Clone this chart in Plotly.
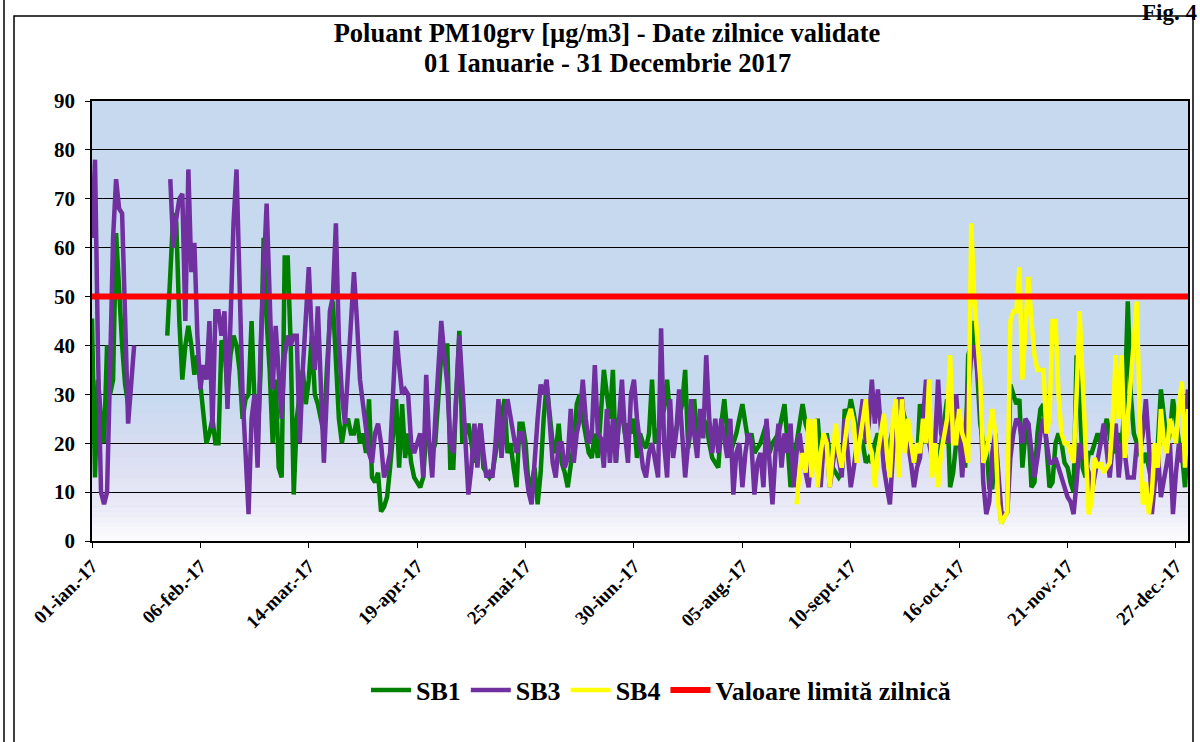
import pandas as pd
import plotly.graph_objects as go

# ---------------- DATA ----------------
dates = pd.date_range("2017-01-01", "2017-12-31", freq="D")
LIMIT = 50

SB1_jan = [45.5, 13, 33, 25, 20, 40, 30, 33, 63, 50, 40, 32, 28] + [None] * 12 + [42, 55, 67, 65, 45, 33]
SB1_feb = [40, 44, 40, 34, 38, 32, 25, 20, 22, 25, 20, 20, 41, 40, 30, 38, 42, 40, 35, 25, 29, 30, 45, 28, 20, 35, 62, 45]
SB1_mar = [35, 20, 33, 15, 13, 58, 58, 40, 9.5, 25, 30, 35, 28, 33, 42, 30, 28, 25, 22, 35, 45, 49, 35, 25, 20, 24, 25, 22, 22, 25, 20]
SB1_apr = [22, 18, 29, 13, 12, 14, 6, 7, 9, 15, 22, 29, 15, 28, 17, 22, 16, 13, 12, 11, 13, 22, 20, 18, 20, 30, 38, 40, 40, 15]
SB1_may = [15, 30, 43, 20, 22, 24, 20, 16, 20, 24, 15, 14, 13, 14, 18, 22, 25, 29, 18, 20, 15, 11, 24, 24, 20, 11, 12, 15, 7.5, 14, 25]
SB1_jun = [32, 26, 20, 18, 24, 16, 14, 11, 16, 20, 28, 30, 25, 22, 18, 17, 22, 17, 25, 35, 30, 25, 35, 16, 25, 26, 22, 24, 22, 25]
SB1_jul = [17, 22, 20, 19, 22, 33, 20, 22, 25, 27, 33, 25, 20, 23, 25, 28, 35, 19, 24, 29, 21, 22, 25, 24, 20, 17, 16, 15, 24, 29, 22]
SB1_aug = [18, 20, 22, 25, 28, 24, 20, 22, 18, 19, 20, 22, 24, 18, 20, 21, 22, 25, 28, 20, 11, 18, 20, 24, 28, 24, 22, 20, 21, 25, 17]
SB1_sep = [20, 22, 18, 15, 14, 13, 14, 27, 25, 29, 26, 22, 21, 20, 16, 17, 16, 20, 22, 20, 19, 18, 20, 23, 26, 29, 27, 25, 22, 17]
SB1_oct = [17, 16, 28, 24, 20, 22, 18, 16, 14, 20, 24, 29, 11, 14, 20, 24, 18, 15, 38, 40, 45, 35, 24, 20, 20, 11, 11, 17, 10, 3.6, 5]
SB1_nov = [6, 32, 30, 28, 29, 15, 22, 24, 11, 12, 22, 27, 28, 20, 11, 12, 20, 22, 20, 16, 15, 12, 10, 38, 30, 15, 13, 18, 18, 20]
SB1_dec = [22, 20, 22, 25, 22, 18, 20, 22, 20, 28, 49, 30, 22, 20, 18, 16, 18, 15, 12, 16, 20, 31, 25, 20, 22, 29, 25, 20, 18, 11, 20]

SB3_jan = [62, 78, 38, 10, 7.5, 10, 35, 62, 74, 68, 67, 45, 24, 32, 40] + [None] * 11 + [74, 60, 66, 70, 71]
SB3_feb = [45, 76, 55, 61, 42, 31, 36, 33, 45, 23, 47, 47, 42, 47, 27, 45, 65, 76, 50, 30, 18, 5.5, 25, 30, 15, 40, 55, 69]
SB3_mar = [50, 31, 44, 35, 25, 38, 42, 40, 42, 42, 20, 35, 45, 56, 42, 35, 48, 30, 16, 30, 47, 50, 65, 41, 30, 24, 35, 45, 55, 45, 33]
SB3_apr = [28, 22, 18, 16, 22, 24, 20, 13, 15, 18, 30, 43, 36, 30, 31, 30, 20, 18, 20, 22, 13, 34, 20, 13, 25, 36, 45, 38, 32, 20]
SB3_may = [18, 30, 42, 32, 20, 9.5, 15, 24, 15, 24, 18, 13, 14, 13, 20, 29, 17, 25, 29, 25, 22, 18, 22, 22, 15, 10, 7.5, 18, 25, 32, 30]
SB3_jun = [33, 25, 16, 13, 20, 20, 15, 17, 27, 16, 22, 25, 33, 25, 20, 22, 36, 22, 21, 15, 27, 16, 25, 16, 25, 33, 22, 16, 30, 33]
SB3_jul = [25, 20, 15, 13, 18, 20, 16, 13, 43.5, 20, 13, 29, 17, 22, 31, 20, 13, 20, 29, 22, 17, 27, 21, 38, 25, 18, 25, 18, 25, 21, 17]
SB3_aug = [25, 9.5, 18, 20, 11, 18, 22, 20, 9.5, 16, 18, 11, 25, 16, 7.5, 18, 24, 15, 22, 18, 24, 11, 18, 22, 17, 14, 11, 18, 20, 16, 11]
SB3_sep = [20, 21, 11, 16, 20, 17, 13, 25, 17, 11, 15, 20, 25, 29, 20, 24, 33, 24, 31, 22, 15, 11, 7.5, 18, 25, 29, 29, 22, 20, 16]
SB3_oct = [11, 15, 17, 25, 33, 20, 17, 20, 33, 22, 20, 25, 20, 25, 30, 22, 13, 22, 30, 38, 40, 35, 30, 12, 5.5, 8, 18, 22, 15, 6, 5]
SB3_nov = [6, 17, 22, 25, 24, 20, 25, 24, 18, 13, 17, 22, 25, 20, 16, 16, 17, 15, 13, 11, 9, 8, 5.5, 12, 20, 18, 16, 14, 10, 13]
SB3_dec = [17, 20, 24, 18, 13, 20, 24, 13, 20, 18, 13, 13, 13, 20, 18, 22, 29, 20, 5.5, 12, 18, 9, 12, 16, 20, 5.5, 14, 20, 16, 22, 31]

SB4_jan_jul = [None] * 212
SB4_aug = [None] * 22 + [7.5, 14, 18, 14, 25, 13, 25, 11, 18]
SB4_sep = [22, 20, 11, 18, 24, 18, 15, 20, 25, 27, 24, 16, 20, 25, 29, 20, 18, 11, 18, 22, 26, 18, 13, 25, 29, 13, 29, 18, 25, 20]
SB4_oct = [16, 20, 18, 25, 20, 33, 13, 20, 11, 18, 22, 25, 38, 20, 20, 27, 22, 20, 16, 65, 50, 40, 33, 16, 18, 22, 27, 22, 7.5, 3.6, 5]
SB4_nov = [6, 45, 47, 47, 56, 33, 45, 54, 45, 38, 35, 35, 35, 22, 25, 45, 45, 30, 22, 20, 20, 18, 16, 30, 47, 33, 20, 5.5, 8, 17]
SB4_dec = [15, 16, 14, 15, 16, 25, 38, 25, 38, 17, 25, 35, 40, 49, 25, 7.5, 12, 5.5, 10, 20, 15, 27, 20, 18, 25, 22, 20, 28, 32.6, 15, 27]

tick_dates = ["2017-01-01", "2017-02-06", "2017-03-14", "2017-04-19", "2017-05-25", "2017-06-30",
              "2017-08-05", "2017-09-10", "2017-10-16", "2017-11-21", "2017-12-27"]
tick_labels = ["01-ian.-17", "06-feb.-17", "14-mar.-17", "19-apr.-17", "25-mai-17", "30-iun.-17",
               "05-aug.-17", "10-sept.-17", "16-oct.-17", "21-nov.-17", "27-dec.-17"]

title_l1 = "Poluant PM10grv [µg/m3] - Date zilnice validate"
title_l2 = "01 Ianuarie - 31 Decembrie 2017"
fig_label = "Fig. 4"

sb1 = SB1_jan + SB1_feb + SB1_mar + SB1_apr + SB1_may + SB1_jun + SB1_jul + SB1_aug + SB1_sep + SB1_oct + SB1_nov + SB1_dec
sb3 = SB3_jan + SB3_feb + SB3_mar + SB3_apr + SB3_may + SB3_jun + SB3_jul + SB3_aug + SB3_sep + SB3_oct + SB3_nov + SB3_dec
sb4 = SB4_jan_jul + SB4_aug + SB4_sep + SB4_oct + SB4_nov + SB4_dec
limit = [LIMIT] * len(dates)

# ---------------- FIGURE ----------------
FONT = "Liberation Serif"
fig = go.Figure()
fig.add_trace(go.Scatter(x=dates, y=sb1, mode="lines", name="SB1",
                         line=dict(color="#008000", width=4.5), connectgaps=False))
fig.add_trace(go.Scatter(x=dates, y=sb3, mode="lines", name="SB3",
                         line=dict(color="#7030A0", width=4.5), connectgaps=False))
fig.add_trace(go.Scatter(x=dates, y=sb4, mode="lines", name="SB4",
                         line=dict(color="#FFFF00", width=4.5), connectgaps=False))
fig.add_trace(go.Scatter(x=dates, y=limit, mode="lines", name="Valoare limită zilnică",
                         line=dict(color="#FF0000", width=6)))

# gradient background bands (style only)
def lerp(c1, c2, t):
    return tuple(round(a + (b - a) * t) for a, b in zip(c1, c2))

stops = [(0, (252, 252, 255)), (8, (232, 232, 246)), (18, (218, 222, 242)), (30, (198, 217, 239))]
shapes = []
step = 1.0
v = 0.0
while v < 30:
    mid = v + step / 2
    for (a, ca), (b, cb) in zip(stops[:-1], stops[1:]):
        if a <= mid <= b:
            c = lerp(ca, cb, (mid - a) / (b - a))
            break
    shapes.append(dict(type="rect", xref="paper", yref="y", x0=0, x1=1, y0=v, y1=v + step + 0.05,
                       fillcolor="rgb(%d,%d,%d)" % c, line=dict(width=0), layer="below"))
    v += step

# outer frames
W, H = 1200, 742
L, R, T, B = 92, 1188, 101, 541
def px(x):
    return (x - L) / (R - L)
def py(y):
    return (B - y) / (B - T)

shapes.append(dict(type="line", xref="paper", yref="paper", x0=px(4), x1=px(4), y0=py(0), y1=py(742),
                   line=dict(color="black", width=1.5)))
shapes.append(dict(type="rect", xref="paper", yref="paper", x0=px(14), x1=px(1193), y0=py(16), y1=py(745),
                   line=dict(color="black", width=1.5), fillcolor="rgba(0,0,0,0)"))

fig.update_layout(
    width=W, height=H,
    margin=dict(l=L, r=W - R, t=T, b=H - B, autoexpand=False),
    paper_bgcolor="white",
    plot_bgcolor="rgb(198,217,239)",
    font=dict(family=FONT, color="black"),
    title=dict(text="<b>" + title_l1 + "</b>",
               x=607 / W, xanchor="center", y=1 - 33 / H, yanchor="middle",
               font=dict(family=FONT, size=26.5, color="black")),
    showlegend=True,
    legend=dict(orientation="h", x=px(661), xanchor="center", y=py(690), yanchor="middle",
                font=dict(family=FONT, size=26, color="black", weight="bold"),
                bgcolor="rgba(0,0,0,0)", itemwidth=40, tracegroupgap=0),
    shapes=shapes,
    annotations=[
        dict(text="<b>" + title_l2 + "</b>", xref="paper", yref="paper", x=px(607), xanchor="center",
             y=py(63), yanchor="middle", showarrow=False, font=dict(family=FONT, size=26.5, color="black")),
        dict(text="<b>" + fig_label + "</b>", xref="paper", yref="paper", x=px(1199), xanchor="right",
             y=py(-2), yanchor="top", showarrow=False, font=dict(family=FONT, size=23, color="black")),
    ],
)

fig.update_xaxes(
    type="date", range=["2017-01-01", "2017-12-31"],
    tickvals=tick_dates, ticktext=tick_labels, tickangle=-45,
    tickfont=dict(family=FONT, size=19, color="black", weight="bold"),
    showgrid=False, showline=True, linecolor="black", linewidth=1.5, mirror=True,
    ticks="outside", ticklen=5, tickcolor="black", zeroline=False,
)
fig.update_yaxes(
    range=[0, 90], dtick=10, tick0=0,
    tickfont=dict(family=FONT, size=21, color="black", weight="bold"),
    showgrid=True, gridcolor="black", gridwidth=1,
    showline=True, linecolor="black", linewidth=1.5, mirror=True,
    ticks="outside", ticklen=5, tickcolor="black", zeroline=False,
    ticklabelstandoff=6,
)

fig.write_html("out.html", config={"displayModeBar": False},
               post_script="document.body.style.margin='0';document.body.style.overflow='hidden';")
